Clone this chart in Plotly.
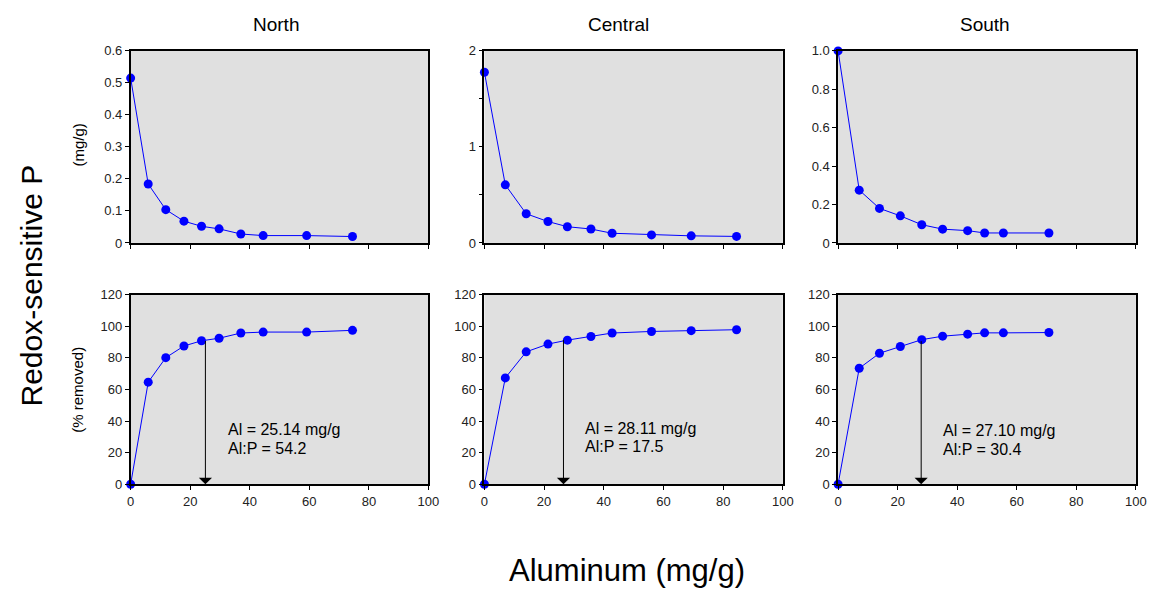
import plotly.graph_objects as go
from plotly.subplots import make_subplots

# ---------------- data ----------------
regions = ["North", "Central", "South"]

al_north = [0, 5.9, 11.8, 17.9, 23.8, 29.7, 37.0, 44.5, 59.1, 74.5]
al_central = [0, 7.0, 14.0, 21.3, 27.8, 35.7, 42.8, 56.0, 69.3, 84.5]
al_south = [0, 7.1, 13.9, 20.9, 28.1, 35.1, 43.5, 49.2, 55.5, 70.8]

p_mg_north = [0.515, 0.184, 0.104, 0.068, 0.052, 0.044, 0.028, 0.023, 0.023, 0.020]
p_mg_central = [1.777, 0.605, 0.304, 0.223, 0.169, 0.145, 0.101, 0.084, 0.074, 0.068]
p_mg_south = [1.0, 0.275, 0.180, 0.141, 0.095, 0.072, 0.064, 0.052, 0.052, 0.052]

p_rem_north = [0, 64.6, 80.1, 87.5, 90.8, 92.4, 95.7, 96.3, 96.3, 97.4]
p_rem_central = [0, 67.3, 83.8, 88.7, 91.2, 93.5, 95.7, 96.7, 97.2, 97.8]
p_rem_south = [0, 73.4, 82.9, 87.2, 91.5, 93.7, 95.0, 95.8, 95.8, 96.0]

arrow_x = [25.1, 26.5, 27.9]
arrow_top = [91.6, 92.2, 91.5]
al_labels = ["Al = 25.14 mg/g", "Al = 28.11 mg/g", "Al = 27.10 mg/g"]
ratio_labels = ["Al:P = 54.2", "Al:P = 17.5", "Al:P = 30.4"]

x_ticks = [0, 20, 40, 60, 80, 100]
x_ticktext = ["0", "20", "40", "60", "80", "100"]
top_yticks = [
    ([0, 0.1, 0.2, 0.3, 0.4, 0.5, 0.6], ["0", "0.1", "0.2", "0.3", "0.4", "0.5", "0.6"]),
    ([0, 0.5, 1, 1.5, 2], ["0", "", "1", "", "2"]),
    ([0, 0.2, 0.4, 0.6, 0.8, 1.0], ["0", "0.2", "0.4", "0.6", "0.8", "1.0"]),
]
top_ranges = [[0, 0.6], [0, 2], [0, 1.0]]
bot_yticks = [0, 20, 40, 60, 80, 100, 120]
bot_range = [0, 120]

al_all = [al_north, al_central, al_south]
mg_all = [p_mg_north, p_mg_central, p_mg_south]
rem_all = [p_rem_north, p_rem_central, p_rem_south]

# ---------------- figure ----------------
W, H = 1161, 600
fig = make_subplots(rows=2, cols=3)

BLUE = "#0000ff"
FONT = "Liberation Sans, Arial, sans-serif"
TICKC = "#222222"

xdom = [(128.3, 430.0), (486.7, 789.0), (845.0, 1146.7)]
ydom_top = (45, 242)
ydom_bot = (295, 489.5)


def px_x(a, b):
    return [a / W, b / W]


def px_y(top, bottom):
    return [1 - bottom / H, 1 - top / H]


for i in range(3):
    fig.add_trace(go.Scatter(x=al_all[i], y=mg_all[i], mode="lines+markers",
                             line=dict(color=BLUE, width=1),
                             marker=dict(color=BLUE, size=9),
                             cliponaxis=False, showlegend=False),
                  row=1, col=i + 1)
    fig.add_trace(go.Scatter(x=al_all[i], y=rem_all[i], mode="lines+markers",
                             line=dict(color=BLUE, width=1),
                             marker=dict(color=BLUE, size=9),
                             cliponaxis=False, showlegend=False),
                  row=2, col=i + 1)

axis_common = dict(showgrid=False, zeroline=False, showline=True, linecolor="black",
                   linewidth=1.5, mirror=True, ticks="outside", ticklen=4,
                   tickcolor="black", tickwidth=1,
                   tickfont=dict(family=FONT, size=13, color=TICKC))

for i in range(3):
    # top row
    fig.update_xaxes(row=1, col=i + 1, domain=px_x(*xdom[i]), range=[0, 100],
                     tickvals=x_ticks, showticklabels=False, **axis_common)
    fig.update_yaxes(row=1, col=i + 1, domain=px_y(*ydom_top), range=top_ranges[i],
                     tickvals=top_yticks[i][0], ticktext=top_yticks[i][1], **axis_common)
    # bottom row
    fig.update_xaxes(row=2, col=i + 1, domain=px_x(*xdom[i]), range=[0, 100],
                     tickvals=x_ticks, ticktext=x_ticktext, **axis_common)
    fig.update_yaxes(row=2, col=i + 1, domain=px_y(*ydom_bot), range=bot_range,
                     tickvals=bot_yticks, **axis_common)

annotations = []
for i in range(3):
    xr = "x%d" % (i + 4)
    yr = "y%d" % (i + 4)
    annotations.append(dict(x=arrow_x[i], y=0, ax=arrow_x[i], ay=arrow_top[i],
                            xref=xr, yref=yr, axref=xr, ayref=yr,
                            showarrow=True, arrowhead=1, arrowsize=2.2, arrowwidth=1,
                            arrowcolor="black", standoff=0, text=""))
    tx = [32.0, 33.2, 34.6][i]
    ty1 = [34.6, 35.6, 34.3][i]
    ty2 = [22.8, 23.9, 22.2][i]
    annotations.append(dict(x=tx, y=ty1, xref=xr, yref=yr, text=al_labels[i],
                            showarrow=False, xanchor="left", yanchor="middle",
                            font=dict(family=FONT, size=16, color="black")))
    annotations.append(dict(x=tx, y=ty2, xref=xr, yref=yr, text=ratio_labels[i],
                            showarrow=False, xanchor="left", yanchor="middle",
                            font=dict(family=FONT, size=16, color="black")))

# column titles
for name, cx in zip(regions, [276, 623, 994]):
    annotations.append(dict(x=cx / W, y=1 - 17.5 / H, xref="paper", yref="paper",
                            text=name, showarrow=False, xanchor="center", yanchor="middle",
                            font=dict(family=FONT, size=19, color="black")))

# axis-type labels
annotations.append(dict(x=28 / W, y=1 - 286 / H, xref="paper", yref="paper",
                        text="Redox-sensitive P", textangle=-90, showarrow=False,
                        xanchor="center", yanchor="middle",
                        font=dict(family=FONT, size=30, color="black")))
annotations.append(dict(x=631 / W, y=1 - 578 / H, xref="paper", yref="paper",
                        text="Aluminum (mg/g)", showarrow=False,
                        xanchor="center", yanchor="middle",
                        font=dict(family=FONT, size=31, color="black")))
annotations.append(dict(x=75 / W, y=1 - 142 / H, xref="paper", yref="paper",
                        text="(mg/g)", textangle=-90, showarrow=False,
                        xanchor="center", yanchor="middle",
                        font=dict(family=FONT, size=15, color="black")))
annotations.append(dict(x=75 / W, y=1 - 392.5 / H, xref="paper", yref="paper",
                        text="(% removed)", textangle=-90, showarrow=False,
                        xanchor="center", yanchor="middle",
                        font=dict(family=FONT, size=15, color="black")))

fig.update_layout(width=W, height=H, margin=dict(l=0, r=0, t=0, b=0),
                  paper_bgcolor="white", plot_bgcolor="#e0e0e0",
                  annotations=annotations, showlegend=False,
                  font=dict(family=FONT))

fig.write_html("out.html", config={"displayModeBar": False},
               post_script=("document.documentElement.style.overflow='hidden';"
                            "document.body.style.overflow='hidden';"
                            "document.body.style.margin='0';"
                            "document.body.style.padding='0';"))
